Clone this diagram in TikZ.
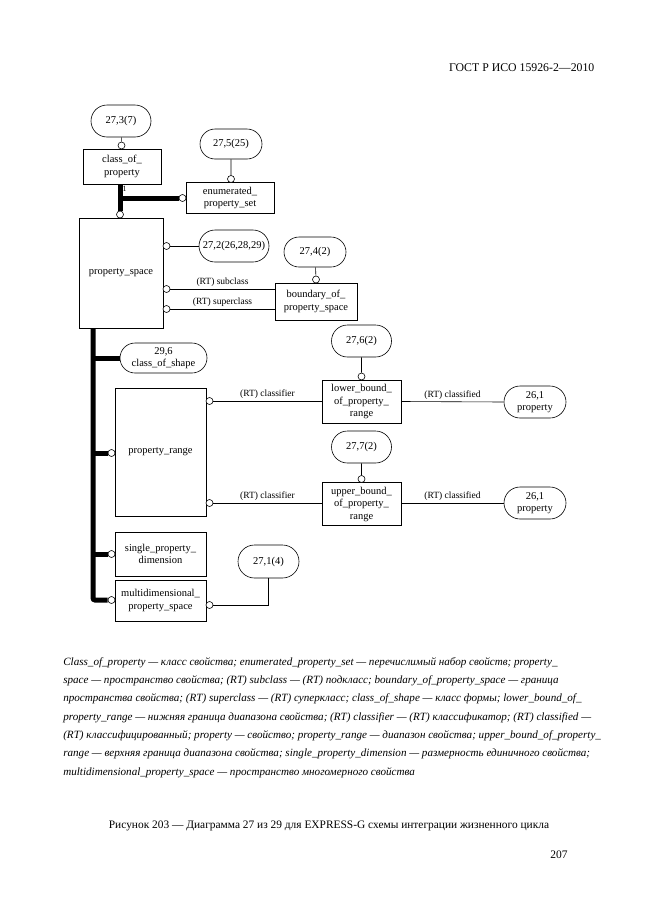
\documentclass[tikz,border=0pt]{standalone}
\usepackage{fontspec}
\setmainfont{Liberation Serif}
\usetikzlibrary{shapes.misc}
\tikzstyle{entity}=[draw, align=center, inner sep=1pt, font=\fontsize{10.5}{12.5}\selectfont]
\tikzstyle{ref}=[draw, rounded rectangle, align=center, inner sep=1pt, font=\fontsize{10.5}{12.5}\selectfont]
\tikzstyle{knob}=[circle, draw, fill=white, inner sep=0pt, minimum size=7pt]
\tikzstyle{super}=[line width=5pt]
\tikzstyle{role}=[font=\fontsize{9.5}{10}\selectfont, inner sep=1pt, above=1pt]
\tikzstyle{legend}=[align=left, anchor=north west, inner sep=0pt, font=\fontsize{11.1}{18.3}\selectfont\itshape]

\begin{document}
\begin{tikzpicture}[x=1pt, y=-1pt, line width=0.6pt]
    \useasboundingbox (0,0) rectangle (661,913);
    \node [anchor=east, font=\fontsize{11.8}{13}\selectfont] (hdr) at (598,68) {ГОСТ Р ИСО 15926-2—2010};

    \node [ref, minimum width=62, minimum height=32] (r273) at (121,121) {27,3(7)};
    \node [entity, minimum width=78, minimum height=35] (cop) at (122,166.5) {class\_of\_\\property};
    \node [knob] (k1) at (121.5,145.5) {};
    \draw (r273) -- (k1);

    \node [ref, minimum width=64, minimum height=30] (r275) at (231,144) {27,5(25)};
    \node [entity, minimum width=88, minimum height=31] (eps) at (230,198) {enumerated\_\\property\_set};
    \node [knob] (k2) at (231,179) {};
    \draw (r275) -- (k2);

    \node [entity, minimum width=84, minimum height=110] (ps) at (121,273) {property\_space};
    \node [knob] (k3) at (120,214.5) {};
    \node [knob] (k4) at (182.5,198) {};
    \draw [super] (cop.south -| k3) -- (k3.north);
    \draw [super] (k3 |- k4) -- (k4.west);
    \node [font=\fontsize{8}{9}\selectfont, inner sep=0pt] (one) at (124.5,189) {1};

    \node [ref, minimum width=72, minimum height=32] (r272) at (234,246) {27,2(26,28,29)};
    \node [knob] (k5) at (166.5,246) {};
    \draw (k5.east) -- (r272.west);

    \node [ref, minimum width=64, minimum height=30] (r274) at (315,252) {27,4(2)};
    \node [entity, minimum width=82, minimum height=37] (bps) at (316,301.5) {boundary\_of\_\\property\_space};
    \node [knob] (k6) at (316,279.5) {};
    \draw (r274) -- (k6);
    \node [knob] (k7) at (166.5,289) {};
    \node [knob] (k8) at (166.5,309) {};
    \draw (k7.east) -- (k7 -| bps.west) node [midway, role] {(RT) subclass};
    \draw (k8.east) -- (k8 -| bps.west) node [midway, role] {(RT) superclass};

    \coordinate (spine) at (93,328);
    \node [ref, minimum width=89, minimum height=30] (cos) at (163.5,358) {29,6\\class\_of\_shape};
    \node [entity, minimum width=91, minimum height=128] (pr) at (160.5,452) {property\_range};
    \node [entity, minimum width=91, minimum height=44] (spd) at (160.5,554) {single\_property\_\\dimension};
    \node [entity, minimum width=91, minimum height=41] (mps) at (160.5,600.5) {multidimensional\_\\property\_space};
    \node [knob] (k9) at (111.5,453) {};
    \node [knob] (k15) at (111.5,554) {};
    \node [knob] (k16) at (111.5,600) {};
    \draw [super, rounded corners=2pt] (spine) |- (k16.west);
    \draw [super] (spine |- cos) -- (cos.west);
    \draw [super] (spine |- k9) -- (k9.west);
    \draw [super] (spine |- k15) -- (k15.west);

    \node [ref, minimum width=62, minimum height=32] (r276) at (361.5,341) {27,6(2)};
    \node [entity, minimum width=79, minimum height=43] (lbr) at (361.5,401.5) {lower\_bound\_\\of\_property\_\\range};
    \node [knob] (k13) at (361.5,376.5) {};
    \draw (r276) -- (k13);
    \node [knob] (k10) at (209.5,401) {};
    \draw (k10.east) -- (k10 -| lbr.west) node [midway, role] {(RT) classifier};
    \node [ref, minimum width=64, minimum height=32] (r261a) at (535,402) {26,1\\property};
    \draw (lbr.east) -- (r261a.west) node [midway, role] {(RT) classified};

    \node [ref, minimum width=62, minimum height=32] (r277) at (361.5,447) {27,7(2)};
    \node [entity, minimum width=79, minimum height=43] (ubr) at (361.5,504) {upper\_bound\_\\of\_property\_\\range};
    \node [knob] (k14) at (361.5,479) {};
    \draw (r277) -- (k14);
    \node [knob] (k11) at (209.5,503) {};
    \draw (k11.east) -- (k11 -| ubr.west) node [midway, role] {(RT) classifier};
    \node [ref, minimum width=64, minimum height=32] (r261b) at (535,503) {26,1\\property};
    \draw (ubr.east |- r261b) -- (r261b.west) node [midway, role] {(RT) classified};

    \node [ref, minimum width=63, minimum height=33] (r271) at (268.5,561.5) {27,1(4)};
    \node [knob] (k17) at (209.5,605) {};
    \draw (k17.east) -| (r271.south);

    \node [legend] (leg) at (63,657) {Class\_of\_property — класс свойства; enumerated\_property\_set — перечислимый набор свойств; property\_\\
space — пространство свойства; (RT) subclass — (RT) подкласс; boundary\_of\_property\_space — граница\\
пространства свойства; (RT) superclass — (RT) суперкласс; class\_of\_shape — класс формы; lower\_bound\_of\_\\
property\_range — нижняя граница диапазона свойства; (RT) classifier — (RT) классификатор; (RT) classified —\\
(RT) классифицированный; property — свойство; property\_range — диапазон свойства; upper\_bound\_of\_property\_\\
range — верхняя граница диапазона свойства; single\_property\_dimension — размерность единичного свойства;\\
multidimensional\_property\_space — пространство многомерного свойства};
    \node [font=\fontsize{11.4}{13}\selectfont] (cap) at (329,826) {Рисунок 203 — Диаграмма 27 из 29 для EXPRESS-G схемы интеграции жизненного цикла};
    \node [font=\fontsize{11.5}{13}\selectfont] (pg) at (559,855) {207};
\end{tikzpicture}
\end{document}
